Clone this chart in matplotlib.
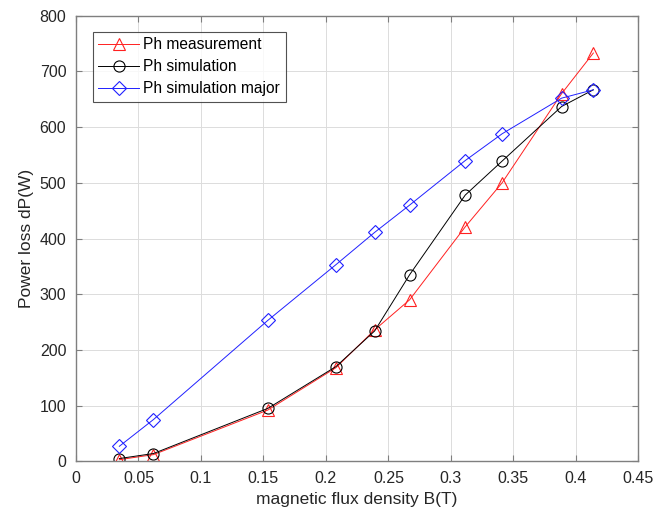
import numpy as np
import matplotlib
matplotlib.use("Agg")
import matplotlib.pyplot as plt

plt.rcParams['font.family'] = ['Liberation Sans', 'DejaVu Sans']

# flux density points (T)
b_field = [0.0347, 0.062, 0.1535, 0.208, 0.239, 0.267, 0.3115, 0.341, 0.3886, 0.414]

# power loss (W)
ph_measurement = [3, 12, 92, 168, 236, 290, 421, 500, 660, 733]
ph_simulation = [5, 14, 95, 170, 234, 335, 478, 539, 637, 667]
ph_sim_major = [27, 75, 253, 353, 411, 460, 540, 588, 652, 667]

x_ticks = [0, 0.05, 0.1, 0.15, 0.2, 0.25, 0.3, 0.35, 0.4, 0.45]
x_tick_labels = ["0", "0.05", "0.1", "0.15", "0.2", "0.25", "0.3", "0.35", "0.4", "0.45"]
y_ticks = [0, 100, 200, 300, 400, 500, 600, 700, 800]

fig = plt.figure(figsize=(6.7, 5.17), dpi=100)
ax = fig.add_axes([0.1134, 0.1077, 0.8393, 0.8619])

ax.plot(b_field, ph_measurement, color="#ff2020", lw=0.7, marker="^", ms=8,
        mfc="none", mew=0.8, label="Ph measurement")
ax.plot(b_field, ph_simulation, color="#000000", lw=0.7, marker="o", ms=8,
        mfc="none", mew=0.8, label="Ph simulation")
ax.plot(b_field, ph_sim_major, color="#2020ff", lw=0.7, marker="D", ms=7,
        mfc="none", mew=0.8, label="Ph simulation major")

ax.set_xlim(0, 0.45)
ax.set_ylim(0, 800)
ax.set_xticks(x_ticks)
ax.set_xticklabels(x_tick_labels)
ax.set_yticks(y_ticks)
ax.grid(True, color="#dcdcdc", lw=0.7)
ax.set_axisbelow(True)

for s in ax.spines.values():
    s.set_color("#7f7f7f")
    s.set_linewidth(1.0)
ax.tick_params(direction="in", top=True, right=True, length=4, width=0.8,
               colors="#7f7f7f", labelcolor="#262626", labelsize=11.5, pad=7)

ax.set_xlabel("magnetic flux density B(T)", fontsize=12.5, color="#262626")
ax.set_ylabel("Power loss dP(W)", fontsize=12.5, color="#262626")

leg = ax.legend(loc="upper left", bbox_to_anchor=(0.030, 0.964), fontsize=11.2,
                frameon=True, fancybox=False, borderpad=0.35, labelspacing=0.45,
                handlelength=2.6, handletextpad=0.3, borderaxespad=0)
leg.get_frame().set_edgecolor("#262626")
leg.get_frame().set_linewidth(0.8)

fig.savefig("out.png", dpi=100)
